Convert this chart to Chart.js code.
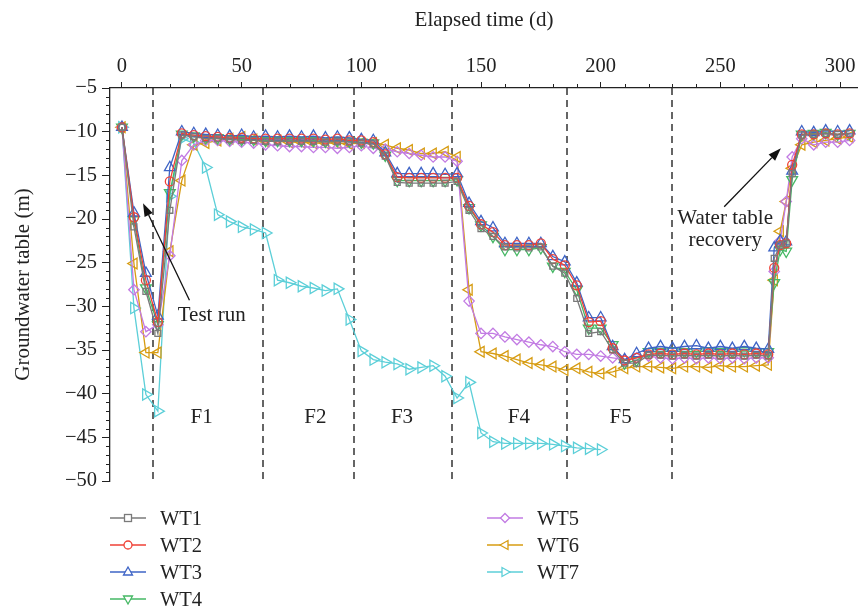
<!DOCTYPE html>
<html><head><meta charset="utf-8">
<script src="https://cdn.jsdelivr.net/npm/chart.js@4.4.0/dist/chart.umd.min.js"></script>
<style>
html,body{margin:0;padding:0;background:#fff;}
#wrap{position:relative;width:858px;height:609px;overflow:hidden;}
#c{position:absolute;left:0;top:0;}
.leg{position:absolute;display:flex;align-items:center;font-family:"Liberation Serif",serif;font-size:20.5px;color:#222;white-space:nowrap;}
.leg svg{margin-right:14px;}
</style></head><body>
<div id="wrap"><canvas id="c" width="858" height="609"></canvas></div>
<script>
// ---- data ----
const seriesNames = ['WT1','WT2','WT3','WT4','WT5','WT6','WT7'];
const xTicks = [0,50,100,150,200,250,300];
const yTicks = [-5,-10,-15,-20,-25,-30,-35,-40,-45,-50];
const phaseBounds = [13,59,97,138,186,230];
const phaseNames = ['F1','F2','F3','F4','F5'];

const daysA = [0,5,10,15,20,25,30,35,40,45,50,55,60,65,70,75,80,85,90,95,
  100,105,110,115,120,125,130,135,140,145,150,155,160,165,170,175,180,185,190,195,
  200,205,210,215,220,225,230,235,240,245,250,255,260,265,270,272.5,275,277.5,280,284,289,294,299,304];
const daysB = [0,5,10,15,20,25,30,35,40,45,50,55,60,65,70,75,80,85,90,95,
  100,105,110,115,120,125,130,135,140,145,150,155,160,165,170,175,180,185,190,195,200];

const wt1 = [-9.5,-20.9,-28.3,-33.1,-19.0,-10.4,-10.6,-10.8,-10.8,-10.9,-11.0,-11.0,-11.1,-11.1,-11.1,-11.1,-11.1,-11.2,-11.1,-11.2,
  -11.3,-11.4,-12.8,-15.8,-15.9,-15.9,-15.9,-15.9,-15.7,-19.0,-21.1,-22.0,-23.2,-23.3,-23.3,-23.2,-25.4,-26.2,-29.1,-33.1,
  -32.9,-35.0,-36.5,-36.5,-35.6,-35.6,-35.7,-35.6,-35.7,-35.6,-35.7,-35.6,-35.7,-35.6,-35.7,-24.5,-23.0,-22.8,-14.8,-10.4,-10.3,-10.2,-10.3,-10.2];
const wt2 = [-9.5,-19.8,-27.0,-31.8,-15.7,-10.2,-10.4,-10.5,-10.6,-10.7,-10.7,-10.8,-10.8,-10.8,-10.8,-10.8,-10.8,-10.9,-10.8,-11.0,
  -11.0,-11.2,-12.6,-15.2,-15.3,-15.3,-15.3,-15.3,-15.3,-18.5,-20.6,-21.5,-23.0,-23.0,-23.0,-22.8,-24.6,-25.3,-27.6,-31.8,
  -31.7,-34.8,-36.2,-35.9,-35.5,-35.4,-35.5,-35.4,-35.5,-35.4,-35.5,-35.4,-35.5,-35.4,-35.5,-25.6,-23.0,-22.8,-13.8,-10.3,-10.3,-10.2,-10.3,-10.2];
const wt3 = [-9.5,-19.3,-26.2,-31.1,-14.1,-10.0,-10.2,-10.3,-10.4,-10.5,-10.4,-10.6,-10.5,-10.6,-10.5,-10.6,-10.5,-10.7,-10.6,-10.7,
  -10.9,-11.0,-12.4,-14.8,-14.8,-14.8,-14.8,-14.9,-14.8,-18.2,-20.3,-21.0,-22.8,-22.8,-22.8,-22.8,-24.3,-24.9,-27.3,-31.3,
  -31.3,-34.6,-36.1,-35.4,-34.8,-34.6,-34.8,-34.6,-34.5,-34.8,-34.6,-34.8,-34.6,-34.8,-34.9,-23.3,-22.5,-22.6,-14.5,-10.0,-10.1,-9.9,-10.0,-9.9];
const wt4 = [-9.5,-20.1,-27.9,-32.1,-17.0,-10.3,-10.5,-10.7,-10.7,-10.8,-10.9,-10.9,-11.0,-11.0,-11.0,-11.0,-11.0,-11.1,-11.0,-11.1,
  -11.2,-11.3,-12.7,-15.6,-15.6,-15.6,-15.6,-15.6,-15.5,-18.7,-20.7,-22.0,-23.5,-23.5,-23.5,-23.3,-25.4,-26.0,-28.1,-32.5,
  -32.5,-34.4,-36.5,-36.2,-35.2,-35.2,-35.1,-35.2,-35.2,-35.1,-35.2,-35.2,-35.1,-35.2,-35.2,-27.3,-23.5,-23.7,-15.5,-10.3,-10.2,-10.1,-10.3,-10.2];
const wt5 = [-9.5,-28.1,-32.9,-32.1,-24.2,-13.3,-11.5,-11.0,-11.0,-11.1,-11.2,-11.3,-11.5,-11.6,-11.7,-11.7,-11.8,-11.8,-11.9,-11.8,
  -11.6,-11.9,-12.0,-12.3,-12.5,-12.7,-12.9,-12.9,-13.4,-29.4,-33.1,-33.1,-33.5,-33.8,-34.1,-34.4,-34.6,-35.2,-35.5,-35.5,
  -35.7,-35.9,-36.1,-35.9,-35.7,-35.9,-36.0,-35.9,-36.0,-35.9,-36.0,-35.9,-36.0,-35.9,-35.9,-26.0,-22.5,-18.0,-12.9,-10.8,-11.5,-11.2,-11.2,-11.0];
const wt6 = [-9.5,-25.1,-35.3,-35.3,-23.7,-15.6,-11.5,-11.3,-11.0,-10.8,-10.6,-10.9,-11.1,-11.0,-11.2,-11.2,-11.3,-11.3,-11.3,-11.4,
  -11.3,-11.3,-11.5,-11.9,-12.1,-12.5,-12.5,-12.3,-12.9,-28.1,-35.2,-35.4,-35.7,-36.1,-36.5,-36.7,-36.9,-37.3,-37.1,-37.5,
  -37.7,-37.5,-37.1,-36.9,-36.9,-37.0,-37.1,-36.9,-36.9,-37.0,-36.8,-36.9,-36.9,-36.8,-36.7,-27.0,-21.4,-18.0,-14.2,-11.5,-11.2,-11.0,-10.8,-10.6];
const wt7 = [-9.5,-30.2,-40.1,-42.0,-17.4,-10.8,-11.3,-14.1,-19.5,-20.3,-20.9,-21.2,-21.6,-27.0,-27.3,-27.7,-27.9,-28.2,-28.0,-31.5,
  -35.1,-36.1,-36.4,-36.6,-37.2,-37.0,-36.8,-38.0,-40.5,-38.7,-44.5,-45.5,-45.7,-45.7,-45.7,-45.7,-45.8,-46.0,-46.2,-46.3,-46.4];

// ---- styling ----
const FONT = '"Liberation Serif", "Times New Roman", serif';
const INK = '#222';
const colors = ['#7a7a7a','#ef4136','#3e64c6','#45b864','#c27be3','#d79c12','#5ccfd8'];
const shapes = [
  {style:'rect', rot:0, r:4.2},
  {style:'circle', rot:0, r:4.5},
  {style:'triangle', rot:0, r:6.2},
  {style:'triangle', rot:180, r:6.2},
  {style:'rectRot', rot:0, r:5.2},
  {style:'triangle', rot:270, r:6.2},
  {style:'triangle', rot:90, r:6.5}
];
const seriesVals = [wt1,wt2,wt3,wt4,wt5,wt6,wt7];
const seriesDays = [daysA,daysA,daysA,daysA,daysA,daysA,daysB];

const datasets = seriesNames.map((name,i)=>({
  label: name,
  data: seriesDays[i].map((d,k)=>({x:d, y:seriesVals[i][k]})),
  borderColor: colors[i],
  backgroundColor: 'rgba(255,255,255,0)',
  pointBackgroundColor: 'rgba(255,255,255,0)',
  pointBorderColor: colors[i],
  borderWidth: 1.3,
  pointBorderWidth: 1.3,
  pointStyle: shapes[i].style,
  pointRotation: shapes[i].rot,
  pointRadius: shapes[i].r,
  pointHoverRadius: shapes[i].r,
  tension: 0,
  fill: false,
  clip: 8
}));

function arrow(ctx, x1, y1, x2, y2) {
  const ang = Math.atan2(y2-y1, x2-x1);
  const L = 13, W = 4.5;
  const bx = x2 - L*Math.cos(ang), by = y2 - L*Math.sin(ang);
  ctx.beginPath(); ctx.moveTo(x1,y1); ctx.lineTo(bx,by); ctx.stroke();
  ctx.beginPath();
  ctx.moveTo(x2,y2);
  ctx.lineTo(bx + W*Math.sin(ang), by - W*Math.cos(ang));
  ctx.lineTo(bx - W*Math.sin(ang), by + W*Math.cos(ang));
  ctx.closePath(); ctx.fill();
}

const phaseLabelDays = [33.3,80.8,117,165.8,208.3];

const decor = {
  id: 'decor',
  beforeDatasetsDraw(chart) {
    const {ctx, chartArea:a, scales:{x}} = chart;
    ctx.save();
    ctx.strokeStyle = '#333'; ctx.lineWidth = 1.5; ctx.setLineDash([7,5]);
    phaseBounds.forEach(d=>{
      const px = Math.round(x.getPixelForValue(d));
      ctx.beginPath(); ctx.moveTo(px, a.top); ctx.lineTo(px, a.bottom); ctx.stroke();
    });
    ctx.restore();
  },
  afterDraw(chart) {
    const {ctx, chartArea:a, scales:{x,y}} = chart;
    ctx.save();
    // minor ticks
    ctx.strokeStyle = INK; ctx.lineWidth = 1;
    for (let v=-49; v<-5; v++) {
      if (v % 5 === 0) continue;
      const py = Math.round(y.getPixelForValue(v)) + 0.5;
      ctx.beginPath(); ctx.moveTo(a.left-4, py); ctx.lineTo(a.left, py); ctx.stroke();
    }
    for (let v=10; v<=300; v+=10) {
      if (v % 50 === 0) continue;
      const px = Math.round(x.getPixelForValue(v)) + 0.5;
      ctx.beginPath(); ctx.moveTo(px, a.top-4); ctx.lineTo(px, a.top); ctx.stroke();
    }
    // phase labels
    ctx.fillStyle = INK;
    ctx.font = '21px ' + FONT;
    ctx.textAlign = 'center'; ctx.textBaseline = 'middle';
    const ly = y.getPixelForValue(-42.7);
    phaseNames.forEach((n,i)=>{
      ctx.fillText(n, x.getPixelForValue(phaseLabelDays[i]), ly);
    });
    // annotations
    ctx.fillText('Test run', x.getPixelForValue(37.5), y.getPixelForValue(-31.0));
    ctx.fillText('Water table', x.getPixelForValue(252), y.getPixelForValue(-19.9));
    ctx.fillText('recovery', x.getPixelForValue(252), y.getPixelForValue(-22.5));
    ctx.strokeStyle = '#111'; ctx.fillStyle = '#111'; ctx.lineWidth = 1.3;
    arrow(ctx, x.getPixelForValue(28.2), y.getPixelForValue(-29.3), x.getPixelForValue(8.8), y.getPixelForValue(-18.2));
    arrow(ctx, x.getPixelForValue(251.6), y.getPixelForValue(-18.6), x.getPixelForValue(275.3), y.getPixelForValue(-11.9));
    ctx.restore();
  }
};

const fmt = v => (v < 0 ? '\u2212' + Math.abs(v) : String(v));

new Chart(document.getElementById('c'), {
  type: 'line',
  data: { datasets },
  options: {
    responsive: false,
    animation: false,
    devicePixelRatio: 1,
    layout: { autoPadding: false, padding: { left: 0, top: 0, right: 0, bottom: 128 } },
    plugins: { legend: { display: false }, tooltip: { enabled: false } },
    scales: {
      x: {
        type: 'linear', position: 'top', min: -5, max: 307.5,
        afterBuildTicks: s => { s.ticks = xTicks.map(v => ({value: v})); },
        afterFit: s => { s.height = 88; s.paddingLeft = 0; s.paddingRight = 0; },
        grid: { drawOnChartArea: false, drawTicks: true, tickLength: 6, color: INK, tickColor: INK, lineWidth: 1 },
        border: { display: true, color: INK, width: 1.3 },
        ticks: { font: { family: FONT, size: 20.5 }, color: INK, padding: 3, maxRotation: 0, autoSkip: false, callback: v => fmt(v) },
        title: { display: true, text: 'Elapsed time (d)', font: { family: FONT, size: 21 }, color: INK, padding: { top: 8, bottom: 0 } }
      },
      y: {
        type: 'linear', position: 'left', min: -50, max: -5,
        afterBuildTicks: s => { s.ticks = yTicks.map(v => ({value: v})); },
        afterFit: s => { s.width = 110; s.paddingTop = 0; s.paddingBottom = 0; },
        grid: { drawOnChartArea: false, drawTicks: true, tickLength: 8, color: INK, tickColor: INK, lineWidth: 1 },
        border: { display: true, color: INK, width: 1.3 },
        ticks: { font: { family: FONT, size: 20.5 }, color: INK, padding: 5, autoSkip: false, callback: v => fmt(v) },
        title: { display: true, text: 'Groundwater table (m)', font: { family: FONT, size: 21 }, color: INK, padding: { top: 11, bottom: 0 } }
      }
    }
  },
  plugins: [decor]
});

// ---- HTML legend ----
function markerSVG(i) {
  const c = colors[i], cx = 18, cy = 8;
  let m = '';
  switch (i) {
    case 0: m = `<rect x="${cx-3.5}" y="${cy-3.5}" width="7" height="7" fill="#fff" stroke="${c}" stroke-width="1.3"/>`; break;
    case 1: m = `<circle cx="${cx}" cy="${cy}" r="4" fill="#fff" stroke="${c}" stroke-width="1.3"/>`; break;
    case 2: m = `<polygon points="${cx},${cy-5} ${cx+4.5},${cy+3} ${cx-4.5},${cy+3}" fill="#fff" stroke="${c}" stroke-width="1.3"/>`; break;
    case 3: m = `<polygon points="${cx},${cy+5} ${cx+4.5},${cy-3} ${cx-4.5},${cy-3}" fill="#fff" stroke="${c}" stroke-width="1.3"/>`; break;
    case 4: m = `<polygon points="${cx},${cy-4.5} ${cx+4.5},${cy} ${cx},${cy+4.5} ${cx-4.5},${cy}" fill="#fff" stroke="${c}" stroke-width="1.3"/>`; break;
    case 5: m = `<polygon points="${cx-5},${cy} ${cx+3},${cy-4.5} ${cx+3},${cy+4.5}" fill="#fff" stroke="${c}" stroke-width="1.3"/>`; break;
    case 6: m = `<polygon points="${cx+5},${cy} ${cx-3},${cy-4.5} ${cx-3},${cy+4.5}" fill="#fff" stroke="${c}" stroke-width="1.3"/>`; break;
  }
  return `<svg width="36" height="16" viewBox="0 0 36 16"><line x1="0" y1="8" x2="36" y2="8" stroke="${c}" stroke-width="1.5"/>${m}</svg>`;
}
const legPos = [[110,518],[110,545],[110,572],[110,599],[487,518],[487,545],[487,572]];
const wrap = document.getElementById('wrap');
seriesNames.forEach((n,i)=>{
  const d = document.createElement('div');
  d.className = 'leg';
  d.style.left = legPos[i][0] + 'px';
  d.style.top = (legPos[i][1] - 12) + 'px';
  d.style.height = '24px';
  d.innerHTML = markerSVG(i) + '<span>' + n + '</span>';
  wrap.appendChild(d);
});
</script>
</body></html>
